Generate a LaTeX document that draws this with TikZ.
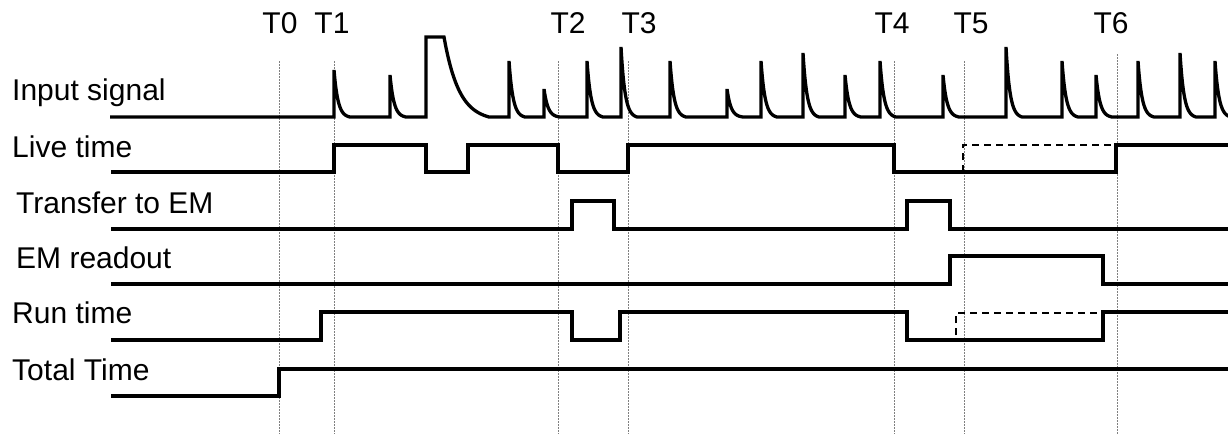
\documentclass[tikz,border=0pt]{standalone}
\usepackage{fontspec}
\setmainfont{Liberation Sans}
\begin{document}
\begin{tikzpicture}[x=1pt,y=-1pt,
  wave/.style={line width=3.3pt, black},
  dashwave/.style={line width=2.3pt, black, dash pattern=on 7pt off 5pt},
  guide/.style={gray, line width=0.7pt, dash pattern=on 1.5pt off 1.5pt},
  lbl/.style={anchor=base west, inner sep=0pt, font=\fontsize{30}{36}\selectfont},
  tlbl/.style={anchor=base, inner sep=0pt, font=\fontsize{30}{36}\selectfont}]
\useasboundingbox (0,0) rectangle (1228,434);

% time markers and guide lines
\foreach \n/\gx/\gy/\lx in {0/279/61/280, 1/334/61/332, 2/558/61/568, 3/628/61/639, 4/894/61/892, 5/964/61/971, 6/1117/54/1111} {
  \node[tlbl] (t\n) at (\lx,33) {T\n};
  \coordinate (gtop\n) at (\gx,\gy);
  \coordinate (gbot\n) at (\gx,434);
  \draw[guide] (gtop\n) -- (gbot\n);
}

% signal labels
\node[lbl] (lin)   at (12,100) {Input signal};
\node[lbl] (llive) at (12,157) {Live time};
\node[lbl] (ltr)   at (16,213) {Transfer to EM};
\node[lbl] (lem)   at (16,268) {EM readout};
\node[lbl] (lrun)  at (12,323) {Run time};
\node[lbl] (ltot)  at (12,380) {Total Time};

% input signal
\draw[wave] (110,117)
  foreach \p/\h in {334/70, 390/75} {
    -- (\p,117) -- (\p,\h)
    -- plot[domain=0:16, samples=25] ({\p+\x},{\h+(117-\h)*(1-exp(-\x/4))/0.98168})
  }
  -- (426,117) -- (426,37) -- (444,37)
  -- plot[domain=0:45, samples=40] ({444+\x},{37+80*(1-exp(-\x/15))/0.950213})
  foreach \p/\h in {509/61, 544/89, 587/61, 621/47, 670/61, 727/89, 761/61, 803/53, 845/75, 880/61, 943/75, 1006/47, 1062/61, 1096/75, 1138/61, 1180/53, 1215/61} {
    -- (\p,117) -- (\p,\h)
    -- plot[domain=0:16, samples=25] ({\p+\x},{\h+(117-\h)*(1-exp(-\x/4))/0.98168})
  }
  -- (1236,117);

% live time
\draw[wave] (111,172) -- (334,172) -- (334,145) -- (426,145) -- (426,172) -- (468,172) -- (468,145)
  -- (558,145) -- (558,172) -- (628,172) -- (628,145) -- (894,145) -- (894,172) -- (1116,172)
  -- (1116,145) -- (1236,145);
\draw[dashwave] (963,172) -- (963,145) -- (1116,145);

% transfer to EM
\draw[wave] (111,229) -- (572,229) -- (572,201) -- (614,201) -- (614,229) -- (907,229) -- (907,201)
  -- (950,201) -- (950,229) -- (1236,229);

% EM readout
\draw[wave] (111,284) -- (950,284) -- (950,256) -- (1103,256) -- (1103,284) -- (1236,284);

% run time
\draw[wave] (111,340) -- (321,340) -- (321,312) -- (572,312) -- (572,340) -- (620,340) -- (620,312)
  -- (907,312) -- (907,340) -- (1103,340) -- (1103,312) -- (1236,312);
\draw[dashwave] (956,335) -- (956,313) -- (1103,313);

% total time
\draw[wave] (111,396) -- (279,396) -- (279,369) -- (1236,369);
\end{tikzpicture}
\end{document}
